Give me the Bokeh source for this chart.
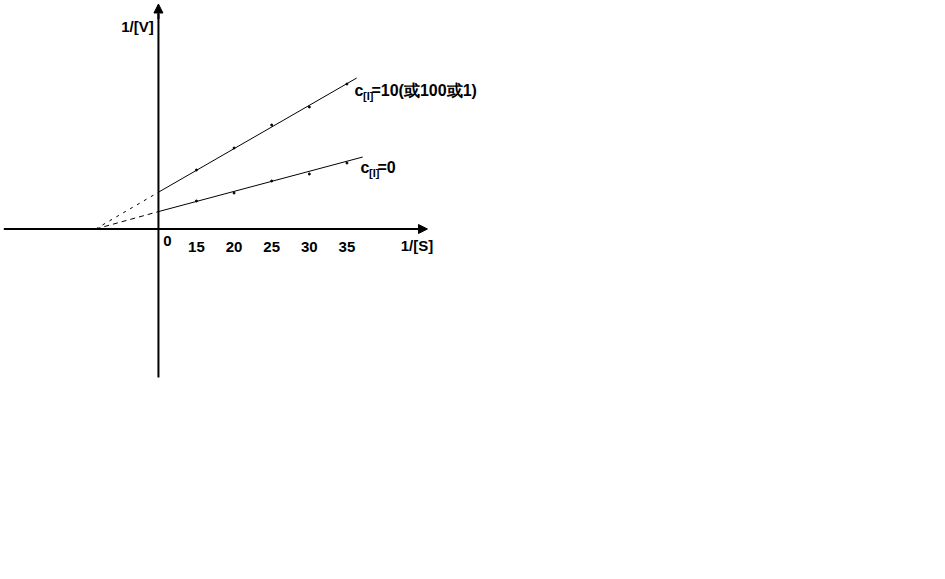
from bokeh.plotting import figure
from bokeh.models import Range1d, Arrow, NormalHead
from bokeh.core.properties import value
from bokeh.embed import file_html
from bokeh.resources import INLINE

# ---- data ----
x_ticks = [15, 20, 25, 30, 35]
tick_labels = ["15", "20", "25", "30", "35"]
inv_s = [15, 20, 25, 30, 35]
inv_v_inhib = [5.9, 8.1, 10.4, 12.2, 14.5]
inv_v_none = [2.8, 3.6, 4.8, 5.5, 6.6]
fit_x_inhib = [10, 36.3]
fit_y_inhib = [3.7, 15.1]
fit_x_none = [10, 37.1]
fit_y_none = [1.75, 7.2]
ext_x = [1.6, 10]
ext_y_inhib = [0, 3.7]
ext_y_none = [0, 1.75]
y_axis_x = 9.95
x_axis_start = -10.6
x_axis_end = 45.7
y_axis_range = [-14.85, 22.5]

FONT = value("Liberation Sans")

W, H = 929, 563
X0 = -11.04
Y1 = 22.85
p = figure(width=W, height=H, x_range=Range1d(X0, X0 + W / 7.525), y_range=Range1d(Y1 - H / 10.0, Y1),
           x_axis_type=None, y_axis_type=None, output_backend="svg", toolbar_location=None,
           min_border=0)
p.outline_line_color = None
p.background_fill_color = "white"
p.border_fill_color = "white"

# axes
p.line([x_axis_start, x_axis_end - 1.0], [0, 0], line_color="black", line_width=2)
p.add_layout(Arrow(end=NormalHead(size=9, fill_color="black", line_color="black"),
                   x_start=x_axis_end - 1.5, y_start=0, x_end=x_axis_end, y_end=0,
                   line_color="black", line_width=2))
p.line([y_axis_x, y_axis_x], [y_axis_range[0], y_axis_range[1] - 1.0], line_color="black", line_width=2)
p.add_layout(Arrow(end=NormalHead(size=9, fill_color="black", line_color="black"),
                   x_start=y_axis_x, y_start=y_axis_range[1] - 1.5, x_end=y_axis_x, y_end=y_axis_range[1],
                   line_color="black", line_width=2))

# lines
p.line(fit_x_inhib, fit_y_inhib, line_color="black", line_width=1)
p.line(fit_x_none, fit_y_none, line_color="black", line_width=1)
p.line(ext_x, ext_y_inhib, line_color="black", line_width=1, line_dash="3 5")
p.line(ext_x, ext_y_none, line_color="black", line_width=1, line_dash="5 4")
p.scatter(inv_s, inv_v_inhib, size=2, color="black")
p.scatter(inv_s, inv_v_none, size=2, color="black")

# tick labels
p.text(x=x_ticks, y=[-1.75] * len(x_ticks), text=tick_labels, text_font=FONT, text_font_style="bold",
       text_font_size="15px", text_align="center", text_baseline="middle", text_color="black")
p.text(x=[11.15], y=[-1.15], text=["0"], text_font=FONT, text_font_style="bold",
       text_font_size="15px", text_align="center", text_baseline="middle", text_color="black")
p.text(x=[44.3], y=[-1.65], text=["1/[S]"], text_font=FONT, text_font_style="bold",
       text_font_size="15px", text_align="center", text_baseline="middle", text_color="black")
p.text(x=[7.16], y=[20.25], text=["1/[V]"], text_font=FONT, text_font_style="bold",
       text_font_size="15px", text_align="center", text_baseline="middle", text_color="black")

# series labels: c with subscript [I]
for lx, ly, rest in [(36.0, 13.85, "=10(或100或1)"), (36.8, 6.15, "=0")]:
    p.text(x=[lx], y=[ly], text=["c"], text_font=FONT, text_font_style="bold",
           text_font_size="16px", text_align="left", text_baseline="middle", text_color="black")
    p.text(x=[lx], y=[ly], text=["[I]"], x_offset=8.5, y_offset=5, text_font=FONT, text_font_style="bold",
           text_font_size="11px", text_align="left", text_baseline="middle", text_color="black")
    p.text(x=[lx], y=[ly], text=[rest], x_offset=17, text_font=FONT, text_font_style="bold",
           text_font_size="16px", text_align="left", text_baseline="middle", text_color="black")

open("out.html", "w").write(file_html(p, INLINE))
